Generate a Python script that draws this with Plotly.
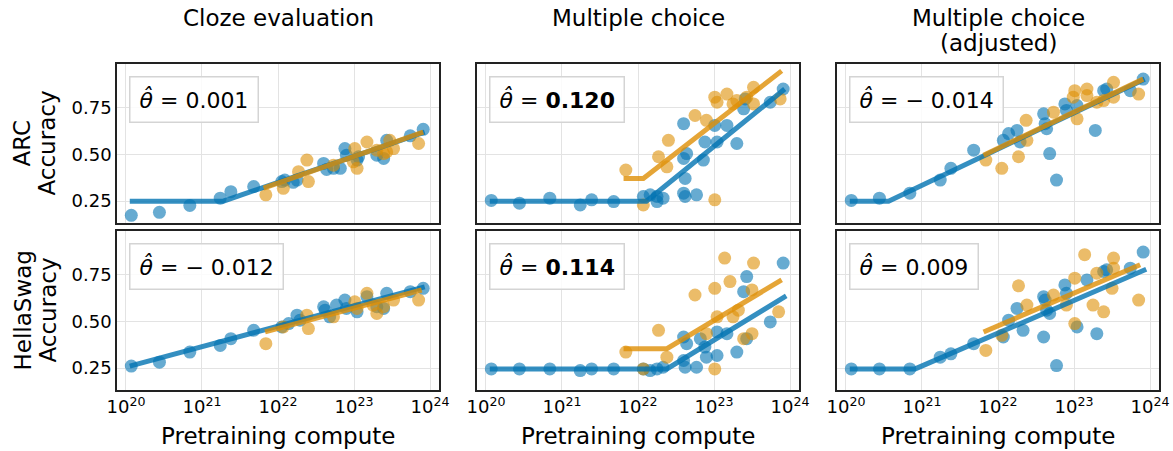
import numpy as np
import plotly.graph_objects as go

# ---------------- data (x values are log10 of pretraining compute) ----------------
# ARC, cloze
arc_cloze_bx = [20.07,20.44,20.84,21.24,21.38,21.68,22.05,22.09,22.2,22.25,22.6,22.64,22.73,22.82,22.88,22.9,23.04,23.06,23.3,23.39,23.43,23.74,23.91]
arc_cloze_by = [0.174,0.19,0.227,0.266,0.301,0.328,0.355,0.363,0.351,0.363,0.452,0.42,0.426,0.426,0.532,0.496,0.47,0.488,0.496,0.479,0.576,0.6,0.635]
arc_cloze_ox = [21.84,22.07,22.27,22.38,22.4,22.73,23.01,23.04,22.99,23.17,23.3,23.39,23.47,23.52,23.85,23.43]
arc_cloze_oy = [0.284,0.319,0.408,0.47,0.355,0.443,0.532,0.426,0.461,0.567,0.523,0.505,0.576,0.532,0.559,0.514]
arc_cloze_fit_bx = [20.05, 21.28, 23.93]
arc_cloze_fit_by = [0.25, 0.25, 0.62]
arc_cloze_fit_ox = [21.81, 23.91]
arc_cloze_fit_oy = [0.32, 0.62]

# ARC, multiple choice
arc_mc_bx = [20.07,20.44,20.84,21.24,21.39,21.68,22.07,22.16,22.25,22.33,22.25,22.6,22.6,22.64,22.62,22.6,22.62,22.77,22.86,22.88,23.01,23.04,23.17,23.3,23.39,23.41,23.74,23.91]
arc_mc_by = [0.254,0.239,0.266,0.23,0.257,0.248,0.275,0.284,0.275,0.266,0.248,0.665,0.479,0.505,0.372,0.293,0.275,0.284,0.47,0.567,0.656,0.567,0.656,0.559,0.745,0.798,0.78,0.851]
arc_mc_ox = [21.84,22.07,22.27,22.38,22.4,22.75,22.9,23.01,23.04,23.17,23.25,23.3,23.43,23.52,23.52,23.87,23.01]
arc_mc_oy = [0.417,0.23,0.488,0.434,0.576,0.709,0.683,0.807,0.78,0.824,0.771,0.789,0.807,0.86,0.771,0.798,0.257]
arc_mc_fit_bx = [20.05, 22.11, 23.93]
arc_mc_fit_by = [0.25, 0.25, 0.851]
arc_mc_fit_ox = [21.81, 22.07, 23.89]
arc_mc_fit_oy = [0.372, 0.372, 0.948]

# ARC, multiple choice (adjusted)
arc_adj_bx = [20.07,20.44,20.84,21.24,21.38,21.68,22.07,22.14,22.25,22.29,22.6,22.62,22.64,22.68,22.77,22.88,22.9,23.04,23.28,23.39,23.43,23.74,23.91]
arc_adj_by = [0.254,0.266,0.293,0.363,0.426,0.523,0.576,0.612,0.629,0.567,0.718,0.665,0.638,0.505,0.363,0.771,0.736,0.762,0.629,0.842,0.851,0.842,0.904]
arc_adj_ox = [21.84,22.05,22.27,22.38,22.37,22.73,23.01,23.04,23.17,23.17,23.3,23.39,23.52,23.52,23.85,22.99]
arc_adj_oy = [0.47,0.426,0.488,0.576,0.683,0.727,0.842,0.691,0.851,0.816,0.78,0.789,0.887,0.807,0.824,0.807]
arc_adj_fit_bx = [20.05, 20.56, 23.93]
arc_adj_fit_by = [0.25, 0.25, 0.904]
arc_adj_fit_ox = [21.81, 23.91]
arc_adj_fit_oy = [0.496, 0.904]

# HellaSwag, cloze
hs_cloze_bx = [20.07,20.44,20.84,21.24,21.38,21.68,22.05,22.14,22.25,22.29,22.6,22.62,22.68,22.77,22.88,22.9,23.04,23.17,23.3,23.39,23.43,23.74,23.91]
hs_cloze_by = [0.261,0.282,0.336,0.372,0.408,0.453,0.471,0.489,0.534,0.507,0.579,0.561,0.525,0.588,0.615,0.57,0.552,0.633,0.579,0.57,0.651,0.66,0.678]
hs_cloze_ox = [21.84,22.07,22.38,22.4,22.73,23.01,23.04,23.17,23.25,23.3,23.39,23.52,23.85]
hs_cloze_oy = [0.381,0.471,0.534,0.462,0.525,0.606,0.57,0.651,0.588,0.543,0.579,0.615,0.615]
hs_cloze_fit_bx = [20.05, 23.93]
hs_cloze_fit_by = [0.261, 0.686]
hs_cloze_fit_ox = [21.83, 23.89]
hs_cloze_fit_oy = [0.444, 0.669]

# HellaSwag, multiple choice
hs_mc_bx = [20.07,20.44,20.84,21.24,21.39,21.68,22.07,22.16,22.25,22.33,22.6,22.64,22.6,22.62,22.77,22.82,22.88,22.9,23.04,23.04,23.17,23.3,23.39,23.43,23.43,23.74,23.91]
hs_mc_by = [0.246,0.246,0.246,0.237,0.246,0.246,0.246,0.237,0.246,0.255,0.417,0.381,0.291,0.255,0.255,0.408,0.363,0.309,0.318,0.444,0.435,0.336,0.66,0.741,0.408,0.498,0.813]
hs_mc_ox = [21.84,22.07,22.27,22.38,22.75,23.01,23.01,23.04,23.14,23.21,23.25,23.32,23.39,23.5,23.5,23.52,23.85,22.9]
hs_mc_oy = [0.336,0.246,0.453,0.309,0.642,0.678,0.246,0.525,0.84,0.714,0.525,0.561,0.408,0.435,0.669,0.813,0.552,0.435]
hs_mc_fit_bx = [20.05, 22.38, 23.95]
hs_mc_fit_by = [0.246, 0.246, 0.637]
hs_mc_fit_ox = [21.81, 22.38, 23.89]
hs_mc_fit_oy = [0.354, 0.354, 0.723]

# HellaSwag, multiple choice (adjusted)
hs_adj_bx = [20.07,20.44,20.84,21.24,21.38,21.68,22.07,22.14,22.25,22.33,22.6,22.62,22.64,22.68,22.6,22.77,22.88,22.9,23.04,23.17,23.3,23.39,23.43,23.74,23.91]
hs_adj_by = [0.246,0.246,0.246,0.309,0.327,0.381,0.417,0.507,0.57,0.453,0.633,0.615,0.561,0.543,0.417,0.264,0.696,0.651,0.471,0.723,0.435,0.768,0.777,0.786,0.872]
hs_adj_ox = [21.84,22.05,22.27,22.38,22.73,22.9,23.01,23.01,23.14,23.25,23.3,23.39,23.5,23.52,23.52,23.85]
hs_adj_oy = [0.345,0.426,0.691,0.588,0.642,0.588,0.732,0.489,0.858,0.588,0.759,0.552,0.678,0.84,0.786,0.615]
hs_adj_fit_bx = [20.05, 20.91, 23.95]
hs_adj_fit_by = [0.246, 0.246, 0.78]
hs_adj_fit_ox = [21.81, 23.87]
hs_adj_fit_oy = [0.444, 0.804]

theta_labels = ["0.001", "<b>0.120</b>", "\u2212 0.014", "\u2212 0.012", "<b>0.114</b>", "0.009"]
col_titles = [["Cloze evaluation"], ["Multiple choice"], ["Multiple choice", "(adjusted)"]]
row_titles = [["ARC", "Accuracy"], ["HellaSwag", "Accuracy"]]
x_title = "Pretraining compute"
x_tick_exps = [20, 21, 22, 23, 24]
y_ticks = [0.25, 0.50, 0.75]

panels = [
    (arc_cloze_bx, arc_cloze_by, arc_cloze_ox, arc_cloze_oy, arc_cloze_fit_bx, arc_cloze_fit_by, arc_cloze_fit_ox, arc_cloze_fit_oy),
    (arc_mc_bx, arc_mc_by, arc_mc_ox, arc_mc_oy, arc_mc_fit_bx, arc_mc_fit_by, arc_mc_fit_ox, arc_mc_fit_oy),
    (arc_adj_bx, arc_adj_by, arc_adj_ox, arc_adj_oy, arc_adj_fit_bx, arc_adj_fit_by, arc_adj_fit_ox, arc_adj_fit_oy),
    (hs_cloze_bx, hs_cloze_by, hs_cloze_ox, hs_cloze_oy, hs_cloze_fit_bx, hs_cloze_fit_by, hs_cloze_fit_ox, hs_cloze_fit_oy),
    (hs_mc_bx, hs_mc_by, hs_mc_ox, hs_mc_oy, hs_mc_fit_bx, hs_mc_fit_by, hs_mc_fit_ox, hs_mc_fit_oy),
    (hs_adj_bx, hs_adj_by, hs_adj_ox, hs_adj_oy, hs_adj_fit_bx, hs_adj_fit_by, hs_adj_fit_ox, hs_adj_fit_oy),
]

# ---------------- styling / layout ----------------
W, H = 1173, 451
FONT = "DejaVu Sans"
BLUE_M = "rgba(1,115,178,0.6)"
ORANGE_M = "rgba(222,143,5,0.6)"
BLUE_L = "rgba(1,115,178,0.8)"
ORANGE_L = "rgba(222,143,5,0.8)"

col_px = [(117, 439), (477, 799), (837, 1159)]
row_px = [(64, 223), (231, 390)]
x_dom = [[a / W, b / W] for a, b in col_px]
y_dom = [[1 - b / H, 1 - a / H] for a, b in row_px]

fig = go.Figure()
layout = dict(
    width=W, height=H,
    margin=dict(l=0, r=0, t=0, b=0),
    paper_bgcolor="white", plot_bgcolor="white",
    showlegend=False,
    font=dict(family=FONT, color="black"),
)

annotations = []
for i, p in enumerate(panels):
    r, c = divmod(i, 3)
    k = i + 1
    xa = "x" if k == 1 else f"x{k}"
    ya = "y" if k == 1 else f"y{k}"
    bx, by, ox, oy, fbx, fby, fox, foy = p
    p10 = lambda v: np.power(10.0, np.array(v))
    fig.add_trace(go.Scatter(x=p10(bx), y=by, mode="markers", xaxis=xa, yaxis=ya,
                             marker=dict(color=BLUE_M, size=13, line=dict(width=0))))
    fig.add_trace(go.Scatter(x=p10(ox), y=oy, mode="markers", xaxis=xa, yaxis=ya,
                             marker=dict(color=ORANGE_M, size=13, line=dict(width=0))))
    fig.add_trace(go.Scatter(x=p10(fbx), y=fby, mode="lines", xaxis=xa, yaxis=ya,
                             line=dict(color=BLUE_L, width=5)))
    fig.add_trace(go.Scatter(x=p10(fox), y=foy, mode="lines", xaxis=xa, yaxis=ya,
                             line=dict(color=ORANGE_L, width=5)))

    xkey = "xaxis" if k == 1 else f"xaxis{k}"
    ykey = "yaxis" if k == 1 else f"yaxis{k}"
    layout[xkey] = dict(
        type="log", range=[19.882, 24.118], domain=x_dom[c], anchor=ya,
        tickvals=[10.0 ** e for e in x_tick_exps],
        ticktext=[f"10<sup>{e}</sup>" for e in x_tick_exps],
        showticklabels=(r == 1), tickfont=dict(size=18, family=FONT),
        showgrid=True, gridcolor="#e3e3e3", gridwidth=1,
        showline=True, linecolor="#222222", linewidth=1.5, mirror=True,
        zeroline=False, ticks="", automargin=False,
    )
    layout[ykey] = dict(
        range=[0.133, 0.985], domain=y_dom[r], anchor=xa,
        tickvals=y_ticks, ticktext=[f"{v:.2f}" for v in y_ticks],
        showticklabels=(c == 0), tickfont=dict(size=18, family=FONT),
        showgrid=True, gridcolor="#e3e3e3", gridwidth=1,
        showline=True, linecolor="#222222", linewidth=1.5, mirror=True,
        zeroline=False, ticks="", automargin=False,
    )
    annotations.append(dict(
        xref=f"{xa} domain", yref=f"{ya} domain",
        x=12 / 322, y=1 - 12 / 159, xanchor="left", yanchor="top",
        text="<i>\u03b8\u0302</i> = " + theta_labels[i], showarrow=False,
        font=dict(size=22, family=FONT, color="black"),
        bgcolor="rgba(255,255,255,0.85)", bordercolor="#d4d4d4", borderwidth=1.5, borderpad=9,
        align="left",
    ))

# column titles
for c, lines in enumerate(col_titles):
    cx = (col_px[c][0] + col_px[c][1]) / 2 / W
    for j, t in enumerate(lines):
        annotations.append(dict(xref="paper", yref="paper", x=cx, y=1 - (18 + 25 * j) / H,
                                xanchor="center", yanchor="middle", text=t, showarrow=False,
                                font=dict(size=23, family=FONT, color="black")))
# x titles
for c in range(3):
    cx = (col_px[c][0] + col_px[c][1]) / 2 / W
    annotations.append(dict(xref="paper", yref="paper", x=cx, y=1 - 436 / H,
                            xanchor="center", yanchor="middle", text=x_title, showarrow=False,
                            font=dict(size=23, family=FONT, color="black")))
# row titles
for r, lines in enumerate(row_titles):
    cy = 1 - (row_px[r][0] + row_px[r][1]) / 2 / H
    for j, t in enumerate(lines):
        annotations.append(dict(xref="paper", yref="paper", x=(22 + 25 * j) / W, y=cy,
                                xanchor="center", yanchor="middle", text=t, textangle=-90,
                                showarrow=False, font=dict(size=23, family=FONT, color="black")))

layout["annotations"] = annotations
fig.update_layout(**layout)
fig.write_html("out.html", config={"displayModeBar": False},
               post_script="document.body.style.margin='0';document.body.style.padding='0';"
                           "document.body.style.overflow='hidden';")
